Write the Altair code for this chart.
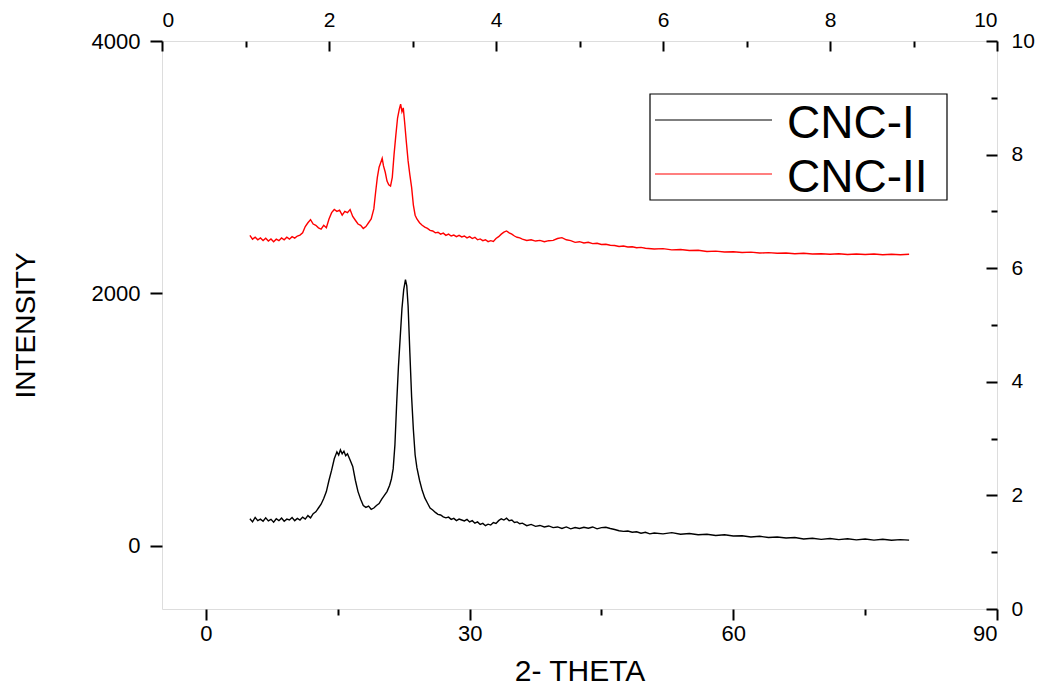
import altair as alt
import pandas as pd

# ---- data ----
series = ["CNC-I", "CNC-II"]
colors = ["#000000", "#ff0000"]

theta_i = [5.0, 5.3, 5.6, 5.9, 6.2, 6.5, 6.8, 7.1, 7.4, 7.7, 8.0, 8.3, 8.6, 8.9, 9.2, 9.5, 9.8,
           10.1, 10.4, 10.7, 11.0, 11.3, 11.6, 11.9, 12.2, 12.5, 12.8, 13.1, 13.4, 13.7, 14.0,
           14.3, 14.6, 14.9, 15.1, 15.3, 15.5, 15.7, 15.9, 16.1, 16.4, 16.7, 17.0, 17.3, 17.6,
           17.9, 18.2, 18.5, 18.8, 19.1, 19.4, 19.7, 20.0, 20.3, 20.6, 20.9, 21.1, 21.3, 21.5,
           21.7, 21.9, 22.1, 22.3, 22.5, 22.7, 22.85, 23.0, 23.2, 23.4, 23.6, 23.8, 24.0, 24.3,
           24.6, 24.9, 25.2, 25.5, 25.8, 26.1, 26.4, 26.7, 27.0, 27.3, 27.6, 27.9, 28.2, 28.5,
           28.8, 29.1, 29.4, 29.7, 30.0, 30.3, 30.6, 30.9, 31.2, 31.5, 31.8, 32.1, 32.4, 32.7,
           33.0, 33.3, 33.6, 33.9, 34.2, 34.5, 34.8, 35.1, 35.4, 35.7, 36.0, 36.5, 37.0, 37.5,
           38.0, 38.5, 39.0, 39.5, 40.0, 40.5, 41.0, 41.5, 42.0, 42.5, 43.0, 43.5, 44.0, 44.5,
           45.0, 45.5, 46.0, 46.5, 47.0, 47.5, 48.0, 48.5, 49.0, 49.5, 50.0, 50.5, 51.0, 52.0,
           53.0, 54.0, 55.0, 56.0, 57.0, 58.0, 59.0, 60.0, 61.0, 62.0, 63.0, 64.0, 65.0, 66.0,
           67.0, 68.0, 69.0, 70.0, 71.0, 72.0, 73.0, 74.0, 75.0, 76.0, 77.0, 78.0, 79.0, 80.0]
inten_i = [215, 190, 225, 200, 212, 195, 222, 198, 210, 188, 215, 200, 220, 195, 212, 205, 225,
           200, 218, 205, 228, 212, 240, 222, 255, 270, 300, 330, 375, 430, 520,
           600, 690, 745, 720, 760, 730, 750, 715, 730, 680, 630, 520, 430, 370,
           320, 305, 315, 290, 300, 320, 335, 370, 400, 430, 480, 530, 610, 800,
           1130, 1420, 1650, 1880, 2030, 2110, 2060, 1900, 1530, 1180, 920, 720, 620, 520,
           440, 380, 340, 300, 285, 265, 250, 245, 230, 222, 228, 210, 218, 200,
           212, 205, 198, 210, 190, 200, 180, 190, 170, 178, 160, 172, 165, 185,
           178, 200, 215, 205, 220, 200, 205, 185, 190, 175, 180, 160, 170, 155,
           162, 150, 158, 145, 150, 138, 150, 135, 145, 138, 148, 140, 150, 135,
           145, 148, 138, 130, 120, 115, 118, 108, 112, 100, 108, 95, 102, 95,
           105, 92, 98, 88, 92, 82, 88, 78, 80, 70, 76, 66, 70, 62,
           66, 55, 60, 52, 58, 50, 56, 48, 54, 46, 52, 45, 50, 46]

theta_ii = [5.0, 5.3, 5.6, 5.9, 6.2, 6.5, 6.8, 7.1, 7.4, 7.7, 8.0, 8.3, 8.6, 8.9, 9.2, 9.5, 9.8,
            10.1, 10.4, 10.7, 11.0, 11.3, 11.6, 11.9, 12.2, 12.5, 12.8, 13.1, 13.4, 13.7, 14.0,
            14.3, 14.6, 14.9, 15.2, 15.5, 15.8, 16.1, 16.4, 16.7, 17.0, 17.3, 17.6, 17.9, 18.2,
            18.5, 18.8, 19.1, 19.3, 19.5, 19.7, 19.9, 20.05, 20.2, 20.4, 20.6, 20.8, 21.0, 21.2,
            21.4, 21.6, 21.8, 22.0, 22.15, 22.3, 22.45, 22.6, 22.8, 23.0, 23.2, 23.4, 23.6, 23.8,
            24.0, 24.3, 24.6, 24.9, 25.2, 25.5, 25.8, 26.1, 26.4, 26.7, 27.0, 27.3, 27.6, 27.9,
            28.2, 28.5, 28.8, 29.1, 29.4, 29.7, 30.0, 30.3, 30.6, 30.9, 31.2, 31.5, 31.8, 32.1,
            32.4, 32.7, 33.0, 33.3, 33.6, 33.9, 34.2, 34.5, 34.8, 35.1, 35.4, 35.7, 36.0, 36.5,
            37.0, 37.5, 38.0, 38.5, 39.0, 39.5, 40.0, 40.5, 41.0, 41.5, 42.0, 42.5, 43.0, 43.5,
            44.0, 44.5, 45.0, 45.5, 46.0, 46.5, 47.0, 47.5, 48.0, 48.5, 49.0, 49.5, 50.0, 51.0,
            52.0, 53.0, 54.0, 55.0, 56.0, 57.0, 58.0, 59.0, 60.0, 61.0, 62.0, 63.0, 64.0, 65.0,
            66.0, 67.0, 68.0, 69.0, 70.0, 71.0, 72.0, 73.0, 74.0, 75.0, 76.0, 77.0, 78.0, 79.0, 80.0]
inten_ii = [2460, 2430, 2445, 2425, 2440, 2420, 2438, 2415, 2432, 2410, 2430, 2418, 2440, 2425,
            2445, 2430, 2450, 2438, 2455, 2462, 2480, 2530, 2560, 2585, 2550, 2540, 2520, 2510,
            2540, 2520, 2590, 2640, 2665, 2650, 2660, 2620, 2650, 2640, 2665, 2610, 2580, 2550,
            2540, 2515, 2530, 2560, 2590, 2670, 2800, 2920, 3000, 3040, 3070, 3010, 2960, 2890,
            2860, 2850, 2920, 3100, 3250, 3390, 3460, 3500, 3440, 3470, 3360, 3200, 3050, 2940,
            2840, 2700, 2620, 2590, 2560, 2540, 2525, 2515, 2500, 2495, 2480, 2485, 2470, 2478,
            2460, 2470, 2455, 2462, 2450, 2460, 2448, 2455, 2440, 2450, 2435, 2445, 2425, 2432,
            2418, 2425, 2410, 2418, 2412, 2435, 2450, 2470, 2485, 2495, 2480, 2470, 2455, 2445,
            2440, 2430, 2420, 2425, 2415, 2420, 2410, 2418, 2420, 2435, 2442, 2425, 2418, 2405,
            2410, 2400, 2405, 2395, 2398, 2388, 2390, 2382, 2380, 2372, 2376, 2368, 2370, 2362,
            2365, 2358, 2352, 2355, 2345, 2348, 2340, 2342, 2332, 2335, 2328, 2330, 2324, 2327,
            2320, 2323, 2318, 2320, 2314, 2318, 2312, 2315, 2310, 2314, 2309, 2313, 2308, 2312,
            2307, 2311, 2306, 2310]

x_ticks = [0, 30, 60, 90]
x_minor = [15, 45, 75]
y_ticks = [0, 2000, 4000]
top_ticks = [0, 2, 4, 6, 8, 10]
top_minor = [1, 3, 5, 7, 9]
right_ticks = [0, 2, 4, 6, 8, 10]
right_minor = [1, 3, 5, 7, 9]

# ---- layout ----
W, H = 835, 568
FONT = "Liberation Sans"

df = pd.concat([
    pd.DataFrame({"theta": theta_i, "intensity": inten_i, "series": series[0]}),
    pd.DataFrame({"theta": theta_ii, "intensity": inten_ii, "series": series[1]}),
])
aux = pd.DataFrame({"v": top_ticks})
leg = pd.DataFrame({"series": series})
box = pd.DataFrame({"series": series[:1]})

color_scale = alt.Scale(domain=series, range=colors)
xs = alt.Scale(domain=[-5, 90], nice=False, zero=False)
ys = alt.Scale(domain=[-500, 4000], nice=False, zero=False)
ts = alt.Scale(domain=[0, 10], nice=False, zero=False)

lab = dict(labelFont=FONT, labelFontSize=22, labelColor="black", format="d")
lab2 = dict(labelFont=FONT, labelFontSize=21, labelColor="black", format="d")
noax = dict(labels=False, domain=False, grid=False, title=None, tickColor="black", tickWidth=2)

lines = alt.Chart(df).mark_line(strokeWidth=1.4).encode(
    x=alt.X("theta:Q", scale=xs, axis=alt.Axis(
        values=x_ticks, orient="bottom", title="2- THETA", tickSize=11, labelPadding=3,
        domain=False, grid=False, tickColor="black", tickWidth=2,
        titleFont=FONT, titleFontSize=30, titleFontWeight="normal", titleColor="black",
        titleX=W / 2, titleY=71, titleBaseline="alphabetic", titleAlign="center", **lab)),
    y=alt.Y("intensity:Q", scale=ys, axis=alt.Axis(
        values=y_ticks, orient="left", title="INTENSITY", tickSize=12, labelPadding=10,
        domain=False, grid=False, tickColor="black", tickWidth=2,
        titleFont=FONT, titleFontSize=28, titleFontWeight="normal", titleColor="black",
        titleAngle=270, titleX=-128, titleY=H / 2, titleBaseline="alphabetic",
        titleAlign="center", **lab)),
    color=alt.Color("series:N", scale=color_scale, legend=None),
)

inv = dict(opacity=0, size=1)

bottom_minor = alt.Chart(aux).mark_point(**inv).encode(
    x=alt.X("v:Q", scale=xs, axis=alt.Axis(values=x_minor, orient="bottom", tickSize=6, **noax)))

top_major = alt.Chart(aux).mark_point(**inv).encode(
    x=alt.X("v:Q", scale=ts, axis=alt.Axis(values=top_ticks, orient="bottom", offset=-H, tickSize=10, **noax)))
top_minor_l = alt.Chart(aux).mark_point(**inv).encode(
    x=alt.X("v:Q", scale=ts, axis=alt.Axis(values=top_minor, orient="bottom", offset=-H, tickSize=6, **noax)))
top_labels = alt.Chart(aux).mark_point(**inv).encode(
    x=alt.X("v:Q", scale=ts, axis=alt.Axis(values=top_ticks, orient="top", ticks=False, domain=False,
                                           grid=False, title=None, labelPadding=11, **lab2)))

right_major = alt.Chart(aux).mark_point(**inv).encode(
    y=alt.Y("v:Q", scale=ts, axis=alt.Axis(values=right_ticks, orient="left", offset=-W, tickSize=11, **noax)))
right_minor_l = alt.Chart(aux).mark_point(**inv).encode(
    y=alt.Y("v:Q", scale=ts, axis=alt.Axis(values=right_minor, orient="left", offset=-W, tickSize=6, **noax)))
right_labels = alt.Chart(aux).mark_point(**inv).encode(
    y=alt.Y("v:Q", scale=ts, axis=alt.Axis(values=right_ticks, orient="right", ticks=False, domain=False,
                                           grid=False, title=None, labelPadding=14, **lab2)))

# legend (drawn by hand so the long line samples fit)
leg_y = alt.Scale(type="point", domain=series, range=[79, 133], padding=0)
leg_box = alt.Chart(box).mark_rect(fill="white", stroke="black", strokeWidth=1.2).encode(
    x=alt.value(488), x2=alt.value(785), y=alt.value(53), y2=alt.value(159))
leg_lines = alt.Chart(leg).mark_rule(strokeWidth=1.2).encode(
    x=alt.value(493), x2=alt.value(610),
    y=alt.Y("series:N", scale=leg_y, axis=None),
    color=alt.Color("series:N", scale=color_scale, legend=None))
leg_text = alt.Chart(leg).mark_text(align="left", baseline="middle", dy=4, fontSize=46,
                                    font=FONT, color="black").encode(
    x=alt.value(625),
    y=alt.Y("series:N", scale=leg_y, axis=None),
    text="series:N")

chart = alt.layer(
    lines, bottom_minor, top_major, top_minor_l, top_labels,
    right_major, right_minor_l, right_labels, leg_box, leg_lines, leg_text
).resolve_scale(
    x="independent", y="independent", color="independent"
).resolve_axis(
    x="independent", y="independent"
).properties(
    width=W, height=H,
    autosize=alt.AutoSizeParams(type="none"),
    padding={"left": 154, "top": 33, "right": 39, "bottom": 77},
).configure_view(
    stroke="black", strokeWidth=2
).configure(background="white")

chart.save("out.html", embed_options={"renderer": "svg", "actions": False})
